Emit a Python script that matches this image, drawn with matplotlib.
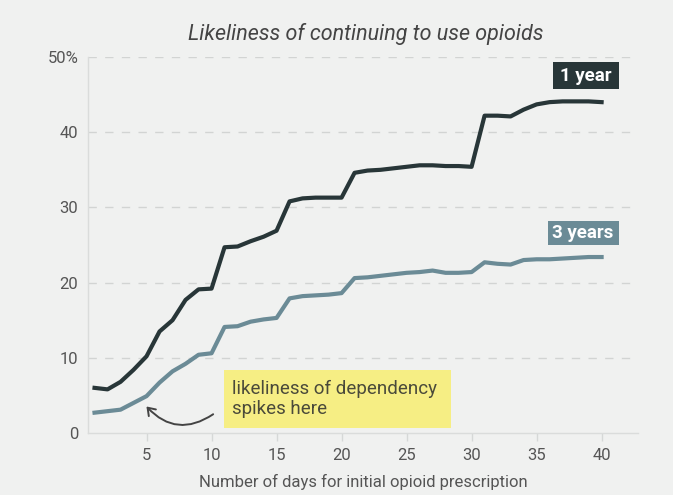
import numpy as np
import matplotlib.pyplot as plt
from matplotlib.patches import FancyArrowPatch, Rectangle

# Share of patients still on opioids, by length of first prescription
days = list(range(1, 41))
one_year = [6.0, 5.8, 6.8, 8.4, 10.2, 13.5, 15.0, 17.7, 19.1, 19.2,
            24.7, 24.8, 25.5, 26.1, 26.9, 30.8, 31.2, 31.3, 31.3, 31.3,
            34.6, 34.9, 35.0, 35.2, 35.4, 35.6, 35.6, 35.5, 35.5, 35.4,
            42.2, 42.2, 42.1, 43.0, 43.7, 44.0, 44.1, 44.1, 44.1, 44.0]
three_years = [2.7, 2.9, 3.1, 4.0, 4.9, 6.7, 8.2, 9.2, 10.4, 10.6,
               14.1, 14.2, 14.8, 15.1, 15.3, 17.9, 18.2, 18.3, 18.4, 18.6,
               20.6, 20.7, 20.9, 21.1, 21.3, 21.4, 21.6, 21.3, 21.3, 21.4,
               22.7, 22.5, 22.4, 23.0, 23.1, 23.1, 23.2, 23.3, 23.4, 23.4]
y_ticks = [0, 10, 20, 30, 40, 50]
y_tick_labels = ['0', '10', '20', '30', '40', '50%']
x_ticks = [5, 10, 15, 20, 25, 30, 35, 40]

plt.rcParams['font.family'] = ['Roboto', 'DejaVu Sans']

bg = '#f0f1f0'
dark = '#283638'
steel = '#6b8b96'
text_grey = '#555555'

fig = plt.figure(figsize=(6.73, 4.95), dpi=100, facecolor=bg)
ax = fig.add_axes([0.1308, 0.1253, 0.8172, 0.7595], facecolor=bg)

ax.plot(days, one_year, color=dark, lw=3.0, solid_joinstyle='round', zorder=3)
ax.plot(days, three_years, color=steel, lw=3.0, solid_joinstyle='round', zorder=3)

ax.set_xlim(0.5, 42.8)
ax.set_ylim(0, 50)

# dashed grid
for y in y_ticks[1:]:
    ax.axhline(y, color='#d2d4d3', lw=1.0, dashes=(6, 6), zorder=1)

for side in ['top', 'right']:
    ax.spines[side].set_visible(False)
for side in ['left', 'bottom']:
    ax.spines[side].set_color('#dadcdb')
    ax.spines[side].set_linewidth(1.0)

ax.set_yticks(y_ticks)
ax.set_yticklabels(y_tick_labels)
ax.set_xticks(x_ticks)
ax.tick_params(axis='y', length=0, pad=7, labelsize=12, labelcolor=text_grey)
ax.tick_params(axis='x', length=6, width=1, color='#d6d8d7', pad=5,
               labelsize=12, labelcolor=text_grey)

ax.set_xlabel('Number of days for initial opioid prescription',
              fontsize=12, color=text_grey, labelpad=8)
fig.text(0.544, 0.931, 'Likeliness of continuing to use opioids',
         ha='center', va='center', fontsize=15.5, style='italic', color='#444444')

# series labels on solid boxes
ax.add_patch(Rectangle((36.3, 45.74), 5.0, 3.6, fc=dark, ec='none', clip_on=False))
ax.text(38.8, 47.54, '1 year', ha='center', va='center', fontsize=13.5,
        fontweight='bold', color='white')
ax.add_patch(Rectangle((35.85, 25.0), 5.45, 3.2, fc=steel, ec='none', clip_on=False))
ax.text(38.57, 26.6, '3 years', ha='center', va='center', fontsize=13.5,
        fontweight='bold', color='white')

# note
ax.add_patch(Rectangle((10.92, 0.66), 17.46, 7.72, fc='#f6ee84', ec='none', zorder=4))
ax.text(11.6, 4.5, 'likeliness of dependency\nspikes here', ha='left', va='center',
        fontsize=13.5, color='#4a4a3a', linespacing=1.15, zorder=5)

arrow = FancyArrowPatch((10.3, 2.7), (4.85, 3.8), connectionstyle='arc3,rad=-0.45',
                        arrowstyle='->,head_length=5,head_width=3.5',
                        color='#444444', lw=1.4, zorder=4)
ax.add_patch(arrow)

fig.savefig('out.png', dpi=100, facecolor=bg)
